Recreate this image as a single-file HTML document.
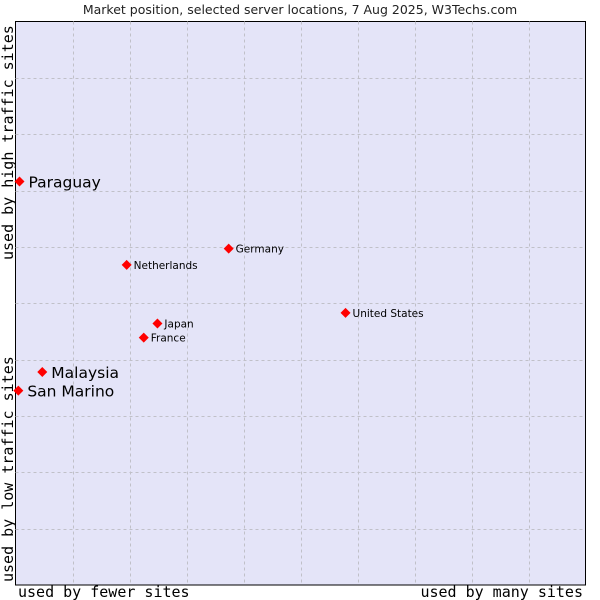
<!DOCTYPE html>
<html><head><meta charset="utf-8"><style>
body{margin:0;background:#fff;width:600px;height:600px;overflow:hidden}
svg{display:block}
</style></head><body>
<svg id="chart" width="600" height="600" xmlns="http://www.w3.org/2000/svg">
<text x="300" y="14" text-anchor="middle" font-family="DejaVu Sans, sans-serif" font-size="12.5" fill="#222">Market position, selected server locations, 7 Aug 2025, W3Techs.com</text>
<rect x="15.5" y="21.5" width="570" height="563.5" fill="#e4e4f8" stroke="#000" stroke-width="1"/>
<g id="grid"></g>
<g id="pts"></g>
<text x="18" y="597" font-family="DejaVu Sans Mono, monospace" font-size="15" fill="#000">used by fewer sites</text>
<text x="583" y="597" text-anchor="end" font-family="DejaVu Sans Mono, monospace" font-size="15" fill="#000">used by many sites</text>
<text transform="translate(13,260) rotate(-90)" font-family="DejaVu Sans Mono, monospace" font-size="15" fill="#000">used by high traffic sites</text>
<text transform="translate(13,582) rotate(-90)" font-family="DejaVu Sans Mono, monospace" font-size="15" fill="#000">used by low traffic sites</text>
</svg>
<script>
const names=["Paraguay","Malaysia","San Marino","Netherlands","Germany","United States","Japan","France"];
const xVals=[0.07,0.47,0.05,1.95,3.74,5.79,2.49,2.25];
const yVals=[7.16,3.78,3.45,5.68,5.97,4.83,4.64,4.39];
const bigLabel=[true,true,true,false,false,false,false,false];
const L=15.5,R=585.5,T=21.5,B=585;
const sx=v=>L+v/10*(R-L), sy=v=>B-v/10*(B-T);
const NS="http://www.w3.org/2000/svg";
const g=document.getElementById('grid');
for(let i=1;i<10;i++){
  let l=document.createElementNS(NS,'line');
  l.setAttribute('x1',Math.round(sx(i))+0.5);l.setAttribute('x2',Math.round(sx(i))+0.5);
  l.setAttribute('y1',T);l.setAttribute('y2',B);
  l.setAttribute('stroke','#c0c0c8');l.setAttribute('stroke-dasharray','3,3');
  
  
  g.appendChild(l);
  let h=document.createElementNS(NS,'line');
  h.setAttribute('y1',Math.round(sy(i))+0.5);h.setAttribute('y2',Math.round(sy(i))+0.5);
  h.setAttribute('x1',L);h.setAttribute('x2',R);
  h.setAttribute('stroke','#c0c0c8');h.setAttribute('stroke-dasharray','3,3');
  
  
  g.appendChild(h);
}
const p=document.getElementById('pts');
names.forEach((n,i)=>{
  const x=sx(xVals[i]),y=sy(yVals[i]);
  const c=document.createElementNS(NS,'path');
  c.setAttribute('d',`M${x-5},${y} L${x},${y-5} L${x+5},${y} L${x},${y+5} Z`);
  c.setAttribute('fill','#f00');
  
  
  p.appendChild(c);
  const t=document.createElementNS(NS,'text');
  t.setAttribute('x',x+(bigLabel[i]?9:7));
  t.setAttribute('y',y+(bigLabel[i]?6:4));
  t.setAttribute('font-family','DejaVu Sans, sans-serif');
  t.setAttribute('font-size',bigLabel[i]?'15.5':'10.5');
  t.setAttribute('fill','#000');
  t.textContent=n;
  
  
  p.appendChild(t);
});
</script>
</body></html>
